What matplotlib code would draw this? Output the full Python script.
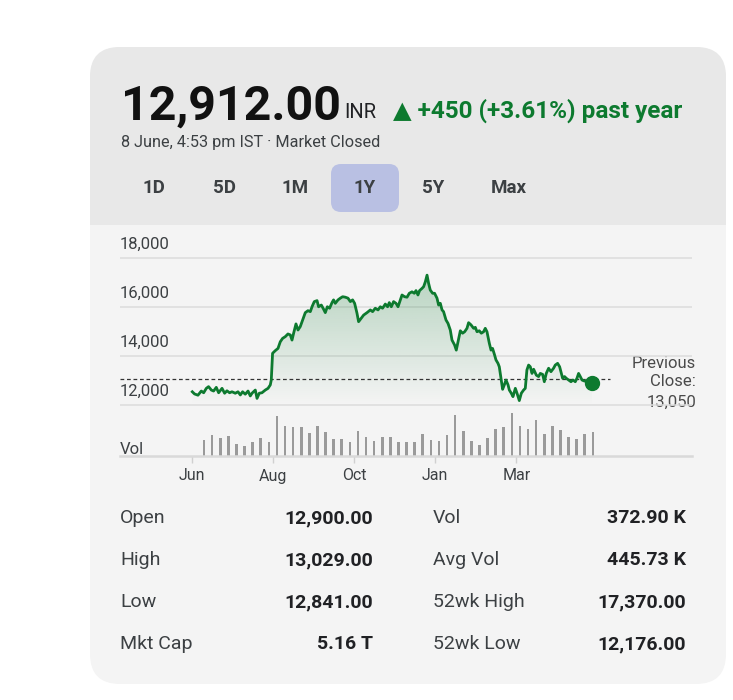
import numpy as np
import matplotlib
matplotlib.use('Agg')
import matplotlib.pyplot as plt
from matplotlib.patches import FancyBboxPatch, Rectangle, PathPatch

plt.rcParams['font.family'] = ['Roboto', 'DejaVu Sans']

# price line, x in weeks from start of June
weeks = [0.00, 0.28, 0.70, 1.11, 1.40, 1.73, 2.01, 2.35, 2.63, 2.96, 3.25, 3.67, 3.99, 4.28,
         4.60, 4.90, 5.31, 5.64, 5.93, 6.21, 6.54, 6.88, 7.16, 7.37, 7.78, 7.99, 8.27, 8.60,
         9.01, 9.35, 9.63, 9.75, 9.91, 10.25, 10.58, 10.86, 11.15, 11.48, 11.81, 12.10, 12.31,
         12.51, 12.80, 13.05, 13.33, 13.62, 13.95, 14.28, 14.57, 14.78, 15.06, 15.40, 15.59,
         15.93, 16.21, 16.42, 16.67, 16.95, 17.25, 17.44, 17.65, 17.99, 18.27, 18.56, 18.89,
         19.22, 19.51, 19.79, 20.04, 20.33, 20.53, 20.86, 21.15, 21.57, 21.98, 22.26, 22.59,
         22.93, 23.21, 23.49, 23.83, 24.11, 24.32, 24.57, 24.85, 25.15, 25.40, 25.68, 25.89,
         26.21, 26.51, 26.79, 27.12, 27.41, 27.62, 27.86, 28.06, 28.36, 28.56, 28.77, 28.98,
         29.17, 29.38, 29.67, 29.91, 30.21, 30.41, 30.62, 30.83, 31.02, 31.32, 31.57, 31.85,
         32.06, 32.38, 32.59, 32.80, 33.09, 33.37, 33.62, 33.91, 34.11, 34.41, 34.73, 34.94,
         35.15, 35.43, 35.68, 35.96, 36.17, 36.38, 36.67, 36.88, 37.07, 37.32, 37.49, 37.74,
         37.90, 38.11, 38.31, 38.52, 38.73, 38.98, 39.14, 39.38, 39.59, 39.88, 40.09, 40.37,
         40.62, 40.90, 41.11, 41.31, 41.52, 41.73, 41.94, 42.14, 42.47, 42.75, 42.96, 43.25,
         43.46, 43.70, 43.99, 44.28, 44.60, 44.81, 45.10, 45.35, 45.56, 45.72, 45.96, 46.17,
         46.46, 46.75, 47.00, 47.28, 47.49, 47.69, 47.90, 48.11, 48.31, 48.73, 49.05, 49.35]
price = [12540, 12450, 12400, 12570, 12500, 12680, 12750, 12610, 12570, 12720, 12500, 12680, 12480, 12580,
         12500, 12540, 12480, 12540, 12410, 12540, 12440, 12570, 12370, 12480, 12610, 12270, 12480, 12500,
         12610, 12680, 12820, 13020, 14110, 14220, 14310, 14580, 14720, 14790, 14900, 14860, 14650,
         14930, 15310, 15060, 15200, 15470, 15770, 15850, 15810, 16010, 16220, 16260, 16010,
         16080, 15910, 15770, 16010, 15950, 16180, 16290, 16150, 16290, 16360, 16420, 16400,
         16360, 16220, 16290, 16150, 15750, 15400, 15540, 15670, 15770, 15880, 15810, 15950,
         15880, 16010, 15950, 16120, 16010, 16180, 16010, 16220, 16150, 16010, 16290, 16490,
         16420, 16400, 16560, 16620, 16560, 16670, 16490, 16670, 16760, 16830, 17030, 17300,
         16970, 16690, 16560, 16560, 16360, 16080, 16150, 15880, 15810, 15470, 15330, 15060,
         14650, 14450, 14240, 14580, 15030, 14930, 14990, 15130, 15360, 15270, 15130, 15170,
         14990, 15030, 14930, 14990, 15130, 14990, 14520, 14240, 14310, 14040, 13840, 13700,
         13560, 13090, 12640, 12820, 13020, 12820, 12610, 12480, 12340, 12680, 12480, 12180,
         12480, 12610, 12680, 13430, 13630, 13560, 13290, 13460, 13220, 13160, 13290, 13250,
         12950, 13290, 13500, 13360, 13500, 13630, 13700, 13560, 13290, 13090, 13160, 13090,
         13020, 12950, 13020, 12950, 13090, 13290, 13160, 13020, 12990, 12950, 12890, 12912]

# weekly volume (thousands)
vol_k = [322, 420, 371, 399, 238, 210, 294, 371, 280, 819, 609, 602, 602, 469, 616, 497, 350,
         343, 280, 518, 392, 315, 392, 385, 294, 294, 287, 441, 322, 301, 434, 847, 518, 308,
         231, 364, 546, 595, 882, 623, 560, 735, 455, 616, 532, 385, 350, 441, 483]
vol_weeks = np.arange(len(vol_k)) + 1.45

month_labels = ['Jun', 'Aug', 'Oct', 'Jan', 'Mar']
month_weeks = [0, 10, 20, 30, 40]
price_ticks = [12000, 14000, 16000, 18000]
prev_close = 13050

ranges = ['1D', '5D', '1M', '1Y', '5Y', 'Max']
stat_names_l = ['Open', 'High', 'Low', 'Mkt Cap']
stat_vals_l = ['12,900.00', '13,029.00', '12,841.00', '5.16 T']
stat_names_r = ['Vol', 'Avg Vol', '52wk High', '52wk Low']
stat_vals_r = ['372.90 K', '445.73 K', '17,370.00', '12,176.00']

GREEN = '#0d7a2f'
DARK = '#202124'
GREY = '#3c4043'

W, H = 733, 700
fig = plt.figure(figsize=(W / 100, H / 100), dpi=100)
fig.patch.set_facecolor('white')


def box(x0, y0, x1, y1):
    return [x0 / W, 1 - y1 / H, (x1 - x0) / W, (y1 - y0) / H]


# background / card, drawn in pixel units
bg = fig.add_axes([0, 0, 1, 1])
bg.set_xlim(0, W)
bg.set_ylim(H, 0)
bg.axis('off')

card = FancyBboxPatch((90, 47), 636, 637, boxstyle='round,pad=0,rounding_size=30',
                      fc='#f4f4f4', ec='none')
bg.add_patch(card)
head = FancyBboxPatch((90, 47), 636, 637, boxstyle='round,pad=0,rounding_size=30',
                      fc='#e8e8e8', ec='none')
bg.add_patch(head)
head.set_clip_path(Rectangle((0, 0), W, 225, transform=bg.transData))

# header texts
bg.text(121, 120, '12,912.00', fontsize=34.8, weight='bold', color='#111111', va='baseline')
bg.text(344, 118, 'INR', fontsize=14.5, color=DARK, va='baseline')
bg.text(393, 118, '\u25B2 +450 (+3.61%) past year', fontsize=17.5, weight='bold',
        color=GREEN, va='baseline')
bg.text(121, 147, '8 June, 4:53 pm IST \u00B7 Market Closed', fontsize=11.7, color=GREY,
        va='baseline')

btn_x = [154, 224, 295, 365, 433, 509]
sel = FancyBboxPatch((331, 164), 68, 48, boxstyle='round,pad=0,rounding_size=10',
                     fc='#b9c0e3', ec='none')
bg.add_patch(sel)
for cx, lab in zip(btn_x, ranges):
    bg.text(cx, 188, lab, fontsize=13.5, weight='bold', color=GREY, ha='center', va='center')

# price chart
x_lo = (120 - 192.3) / 8.1
x_hi = (692 - 192.3) / 8.1
y_lo = 12000 - 50 / 24.5 * 1000
y_hi = 12000 + 170 / 24.5 * 1000

ax = fig.add_axes(box(120, 235, 692, 455))
ax.patch.set_alpha(0)
ax.axis('off')

ax.hlines(price_ticks, x_lo, x_hi, color='#dcdcdc', lw=1.1, zorder=0)
for t in price_ticks:
    ax.annotate(f'{t:,}', (x_lo, t), xytext=(0, 9.5), textcoords='offset points',
                fontsize=12, color=GREY, ha='left', va='center')

fill = ax.fill_between(weeks, price, 12000, facecolor='none', edgecolor='none')
clip = PathPatch(fill.get_paths()[0], transform=ax.transData, fc='none', ec='none')
ax.add_patch(clip)
grad = np.zeros((256, 1, 4))
grad[:, 0, 0:3] = np.array([13, 122, 47]) / 255
grad[:, 0, 3] = np.linspace(0.0, 0.26, 256)
im = ax.imshow(grad, extent=[weeks[0], weeks[-1], 12000, 17300], origin='lower',
               aspect='auto', zorder=1, interpolation='bilinear')
im.set_clip_path(clip)

ax.hlines(prev_close, x_lo, (610 - 192.3) / 8.1, color='#333333', lw=0.9,
          linestyles=(0, (3, 2.2)), zorder=2)
ax.plot(weeks, price, color=GREEN, lw=2.0, solid_joinstyle='round', zorder=3)
ax.plot(weeks[-1], price[-1], 'o', ms=10, color=GREEN, zorder=4)
ax.set_xlim(x_lo, x_hi)
ax.set_ylim(y_lo, y_hi)

prev_y = [363, 382, 402]
for yy, s in zip(prev_y, ['Previous', 'Close:', f'{prev_close:,}']):
    bg.text(696, yy, s, fontsize=12, color='#4a4a4a', ha='right', va='center')

# volume bars
axv = fig.add_axes(box(120, 412, 692, 456))
axv.patch.set_alpha(0)
axv.bar(vol_weeks, vol_k, width=0.32, color='#9a9a9a')
axv.set_xlim(x_lo, x_hi)
axv.set_ylim(0, 900)
for s in ['top', 'left', 'right']:
    axv.spines[s].set_visible(False)
axv.spines['bottom'].set_color('#d9d9d9')
axv.spines['bottom'].set_linewidth(1.8)
axv.set_yticks([])
axv.set_xticks(month_weeks)
axv.set_xticklabels(month_labels)
axv.tick_params(axis='x', length=5, width=1, color='#d0d0d0', pad=4,
                labelsize=11.5, labelcolor=GREY)
bg.text(120, 454, 'Vol', fontsize=12, color=GREY, va='baseline')

# stats table
rows_y = [518, 560, 602, 644]
for yy, n1, v1, n2, v2 in zip(rows_y, stat_names_l, stat_vals_l, stat_names_r, stat_vals_r):
    bg.text(120, yy, n1, fontsize=14, color=GREY, va='center')
    bg.text(373, yy, v1, fontsize=14, weight='bold', color=DARK, ha='right', va='center')
    bg.text(433, yy, n2, fontsize=14, color=GREY, va='center')
    bg.text(686, yy, v2, fontsize=14, weight='bold', color=DARK, ha='right', va='center')

fig.savefig('out.png', dpi=100, facecolor='white')
